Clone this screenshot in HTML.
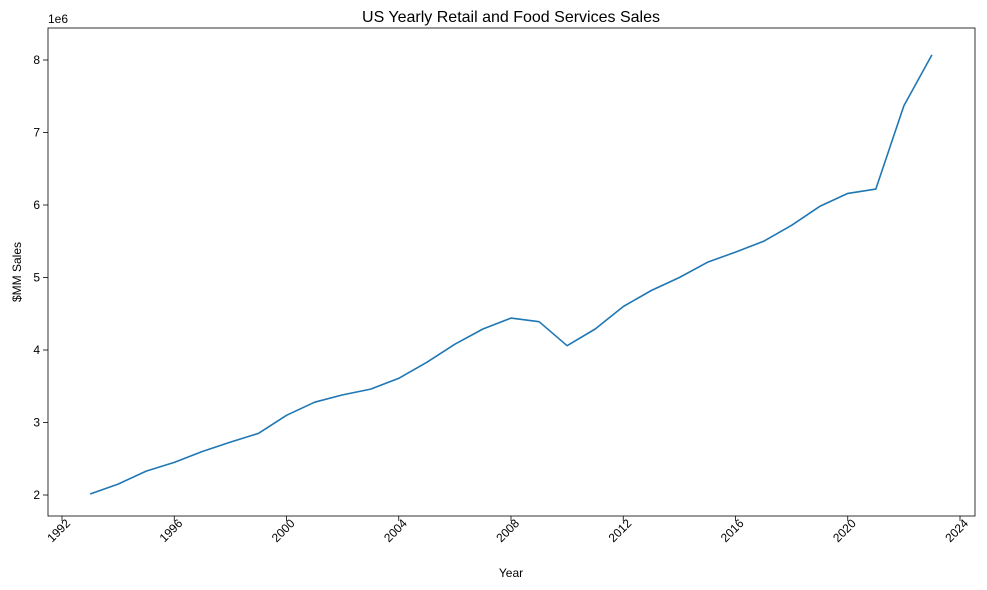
<!DOCTYPE html>
<html><head><meta charset="utf-8"><style>
body{margin:0;background:#fff;}
svg{display:block;font-family:"Liberation Sans","DejaVu Sans",sans-serif;}
</style></head><body>
<svg id="chart" width="987" height="590"></svg>
<script>
const years=[1993,1994,1995,1996,1997,1998,1999,2000,2001,2002,2003,2004,2005,2006,2007,2008,2009,2010,2011,2012,2013,2014,2015,2016,2017,2018,2019,2020,2021,2022,2023];
const values=[2.014,2.15,2.33,2.45,2.6,2.73,2.85,3.10,3.28,3.38,3.46,3.61,3.83,4.08,4.29,4.44,4.39,4.06,4.29,4.60,4.82,5.00,5.21,5.35,5.50,5.72,5.98,6.16,6.22,7.37,8.07];
const xTicks=[1992,1996,2000,2004,2008,2012,2016,2020,2024];
const yTicks=[2,3,4,5,6,7,8];
const NS="http://www.w3.org/2000/svg";
const svg=document.getElementById('chart');
const L=48,R=975,T=28,B=516;
function xs(v){return 62+(v-1992)*(960-62)/32;}
function ys(v){return 495-(v-2)*(495-60)/6;}
function mk(tag,attrs,text){const e=document.createElementNS(NS,tag);for(const k in attrs)e.setAttribute(k,attrs[k]);if(text!==undefined)e.textContent=text;svg.appendChild(e);return e;}
let t=mk('text',{x:511,y:22,'text-anchor':'middle','font-size':16,fill:'#000'},'US Yearly Retail and Food Services Sales');


xTicks.forEach(v=>{const x=xs(v);
 let l=mk('line',{x1:x,x2:x,y1:B,y2:B+5,stroke:'#000','stroke-width':0.8});
 
 
 let tx=mk('text',{x:x+9,y:B+8,'text-anchor':'end','font-size':12,transform:`rotate(-45 ${x+9} ${B+8})`},String(v));
 
 
});
yTicks.forEach(v=>{const y=ys(v);
 let l=mk('line',{x1:L-5,x2:L,y1:y,y2:y,stroke:'#000','stroke-width':0.8});
 
 
 let tx=mk('text',{x:L-8,y:y+4,'text-anchor':'end','font-size':12},String(v));
 
 
});
let off=mk('text',{x:48,y:23,'font-size':12},'1e6');


let xt=mk('text',{x:511,y:577,'text-anchor':'middle','font-size':12},'Year');


let yt=mk('text',{x:21,y:272,'text-anchor':'middle','font-size':12,transform:'rotate(-90 21 272)'},'$MM Sales');


const pts=years.map((yr,i)=>xs(yr).toFixed(1)+','+ys(values[i]).toFixed(1)).join(' ');
let pl=mk('polyline',{points:pts,fill:'none',stroke:'#1f77b4','stroke-width':1.6,'stroke-linejoin':'round'});


let fr=mk('rect',{x:L,y:T,width:R-L,height:B-T,fill:'none',stroke:'#000','stroke-width':0.8});


</script>
</body></html>
